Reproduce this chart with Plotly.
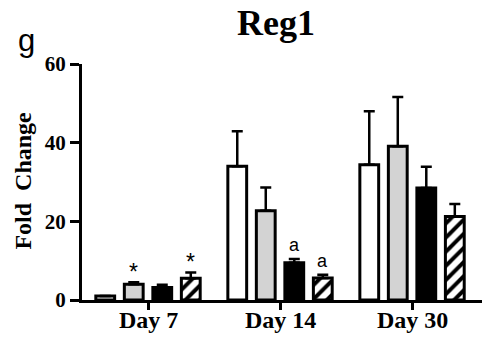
import plotly.graph_objects as go

days = ["Day 7", "Day 14", "Day 30"]
series_names = ["Group 1", "Group 2", "Group 3", "Group 4"]
means = [
    [1.0, 34.0, 34.4],
    [4.0, 22.7, 39.1],
    [3.2, 9.5, 28.5],
    [5.5, 5.6, 21.2],
]
errors = [
    [0.0, 8.9, 13.6],
    [0.5, 5.9, 12.5],
    [0.7, 0.9, 5.4],
    [1.5, 0.8, 3.2],
]
# significance marks: (series index, day index, text)
marks = [(1, 0, "*"), (3, 0, "*"), (2, 1, "a"), (3, 1, "a")]
y_ticks = [0, 20, 40, 60]

fills = ["white", "#d3d3d3", "black", "white"]
BARGAP = 0.136
BARGROUPGAP = 0.34
SERIF = "Liberation Serif"
SANS = "Liberation Sans"

fig = go.Figure()
for i, name in enumerate(series_names):
    marker = dict(color=fills[i], line=dict(color="black", width=3))
    if i == 3:
        marker["pattern"] = dict(shape="/", fgcolor="black", bgcolor="white",
                                 size=10, solidity=0.4, fillmode="replace")
    fig.add_trace(go.Bar(
        name=name, x=list(range(len(days))), y=means[i],
        marker=marker,
        error_y=dict(type="data", array=errors[i],
                     arrayminus=[0] * len(days), symmetric=False,
                     color="black", thickness=2.5, width=5.5),
    ))

slot = (1 - BARGAP) / len(series_names)
for si, di, txt in marks:
    xpos = di + (si - (len(series_names) - 1) / 2) * slot
    top = means[si][di] + errors[si][di]
    fig.add_annotation(x=xpos, y=top, xref="x", yref="y", text=txt,
                       showarrow=False, yanchor="bottom",
                       yshift=(-5 if txt == "*" else 2),
                       font=dict(family=SANS, size=23 if txt == "*" else 18,
                                 color="black"))

# category labels below the x axis
for di, d in enumerate(days):
    fig.add_annotation(x=di, y=0, xref="x", yref="paper", text=f"<b>{d}</b>",
                       showarrow=False, xanchor="center", yanchor="top",
                       yshift=-5,
                       font=dict(family=SERIF, size=24, color="black"))

fig.add_annotation(text="<b>Reg1</b>", xref="paper", yref="paper", x=0.486, y=1,
                   xanchor="center", yanchor="bottom", yshift=19,
                   showarrow=False,
                   font=dict(family=SERIF, size=36, color="black"))
fig.add_annotation(text="g", xref="paper", yref="paper", x=0, y=1,
                   xanchor="center", yanchor="bottom", xshift=-56, yshift=4,
                   showarrow=False,
                   font=dict(family=SANS, size=31, color="black"))
fig.add_annotation(text="<b>Fold  Change</b>", xref="paper", yref="paper", x=0, y=0.506,
                   xanchor="center", yanchor="middle", xshift=-59, textangle=-90,
                   showarrow=False,
                   font=dict(family=SERIF, size=24, color="black"))

fig.update_layout(
    width=482, height=337,
    margin=dict(l=82, r=0, t=64, b=37, pad=0, autoexpand=False),
    paper_bgcolor="white", plot_bgcolor="white",
    barmode="group", bargap=BARGAP, bargroupgap=BARGROUPGAP,
    showlegend=False,
)
fig.update_xaxes(
    range=[-0.5, 2.53], tickmode="array", automargin=False,
    tickvals=list(range(len(days))), showticklabels=False,
    showline=True, linewidth=3, linecolor="black",
    ticks="outside", ticklen=7, tickwidth=3, tickcolor="black",
    showgrid=False, zeroline=False,
)
fig.update_yaxes(
    range=[0, 60], tickmode="array", automargin=False, tickvals=y_ticks,
    ticktext=[f"<b>{v}</b>" for v in y_ticks],
    showline=True, linewidth=3, linecolor="black",
    ticks="outside", ticklen=9, tickwidth=3, tickcolor="black",
    showgrid=False, zeroline=False,
    tickfont=dict(family=SERIF, size=21, color="black"),
)

fig.write_html("out.html")
